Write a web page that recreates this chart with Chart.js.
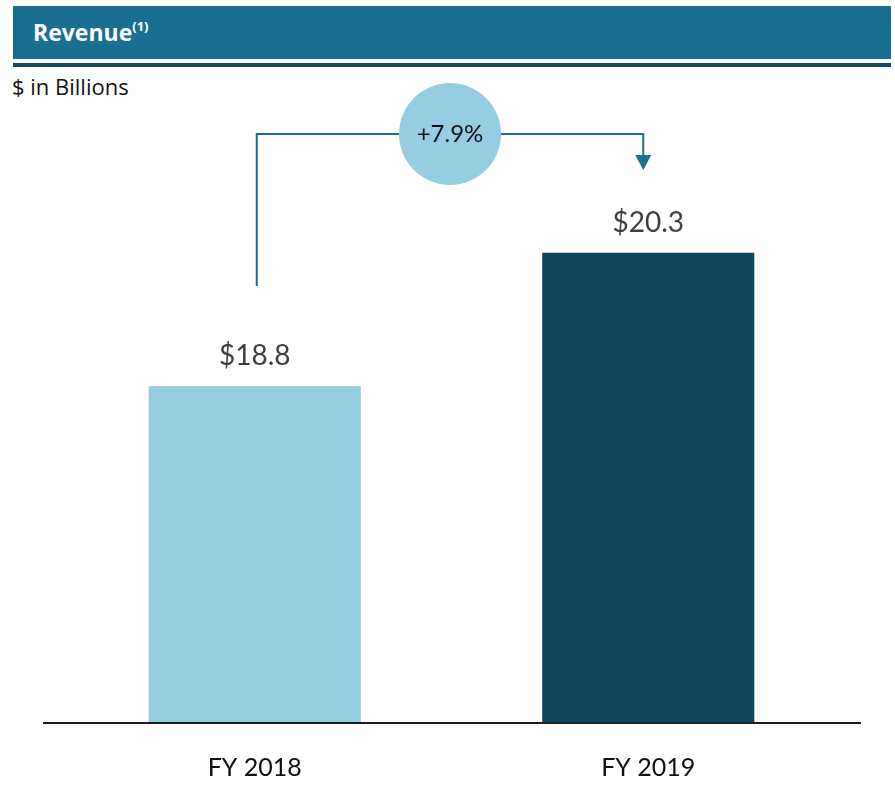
<!DOCTYPE html>
<html lang="en">
<head>
<meta charset="UTF-8">
<title>Revenue</title>
<script src="https://cdn.jsdelivr.net/npm/chart.js@4.4.1/dist/chart.umd.min.js"></script>
<style>
  body { margin: 0; background: #fff; font-family: "Open Sans", sans-serif; }
  #wrap { position: relative; width: 895px; height: 807px; }
  .hdr { position: absolute; left: 13px; top: 6px; width: 878px; height: 53px; background: #1a6e92; }
  .hdr span { position: absolute; left: 20px; top: 10px; color: #fff; font-weight: bold; font-size: 23px; }
  .hdr sup { font-size: 13px; font-weight: bold; vertical-align: 10px; }
  .rule { position: absolute; left: 13px; top: 63px; width: 878px; height: 4px; background: #134a64; }
  .unit { position: absolute; left: 12px; top: 71px; font-size: 22px; color: #111; }
  canvas { position: absolute; left: 0; top: 0; }
</style>
</head>
<body>
<div id="wrap">
  <div class="hdr"><span>Revenue<sup>(1)</sup></span></div>
  <div class="rule"></div>
  <div class="unit">$ in Billions</div>
  <canvas id="chart"></canvas>
</div>

<script>
const categories = ['FY 2018', 'FY 2019'];
const revenue = [18.8, 20.3];
const valueLabels = ['$18.8', '$20.3'];
const growthLabel = '+7.9%';
const barColors = ['#97cde1', '#12455f'];

// value labels, baseline, category names and the growth connector
const extras = {
  id: 'extras',
  afterDatasetsDraw(chart) {
    const ctx = chart.ctx;
    const area = chart.chartArea;
    const bars = chart.getDatasetMeta(0).data;
    const xs = chart.scales.x;
    ctx.save();

    // baseline
    ctx.strokeStyle = '#1e1e1e';
    ctx.lineWidth = 2;
    ctx.beginPath();
    ctx.moveTo(area.left - 15, area.bottom);
    ctx.lineTo(area.right + 16, area.bottom);
    ctx.stroke();

    // values above bars
    ctx.fillStyle = '#404040';
    ctx.font = '28px Lato';
    ctx.textAlign = 'center';
    ctx.textBaseline = 'middle';
    bars.forEach((b, i) => ctx.fillText(valueLabels[i], b.x, b.y - 30));

    // category names
    ctx.fillStyle = '#111';
    ctx.font = '25px Lato';
    categories.forEach((c, i) => ctx.fillText(c, xs.getPixelForValue(i), area.bottom + 45));

    // growth connector
    const x1 = bars[0].x + 2, x2 = bars[1].x - 5;
    const yTop = 134, yStart = bars[0].y - 100, yEnd = 170;
    ctx.strokeStyle = '#1a6e92';
    ctx.lineWidth = 2;
    ctx.beginPath();
    ctx.moveTo(x1, yStart);
    ctx.lineTo(x1, yTop);
    ctx.lineTo(x2, yTop);
    ctx.lineTo(x2, yEnd - 12);
    ctx.stroke();
    ctx.fillStyle = '#1a6e92';
    ctx.beginPath();
    ctx.moveTo(x2 - 8, yEnd - 15);
    ctx.lineTo(x2 + 8, yEnd - 15);
    ctx.lineTo(x2, yEnd);
    ctx.closePath();
    ctx.fill();

    const cx = (x1 + x2) / 2;
    ctx.fillStyle = '#97cde3';
    ctx.beginPath();
    ctx.arc(cx, yTop, 51, 0, Math.PI * 2);
    ctx.fill();
    ctx.fillStyle = '#111';
    ctx.font = '24px Lato';
    ctx.fillText(growthLabel, cx, yTop);

    ctx.restore();
  }
};

new Chart(document.getElementById('chart'), {
  type: 'bar',
  data: {
    labels: categories,
    datasets: [{
      data: revenue,
      backgroundColor: barColors,
      borderWidth: 0,
      categoryPercentage: 1,
      barPercentage: 0.539
    }]
  },
  options: {
    responsive: true,
    maintainAspectRatio: false,
    animation: false,
    layout: { padding: { left: 58, right: 50, top: 102, bottom: 84 } },
    plugins: { legend: { display: false }, tooltip: { enabled: false } },
    scales: {
      x: { display: false },
      y: { display: false, min: 15, max: 22 }
    }
  },
  plugins: [extras]
});
</script>
</body>
</html>
